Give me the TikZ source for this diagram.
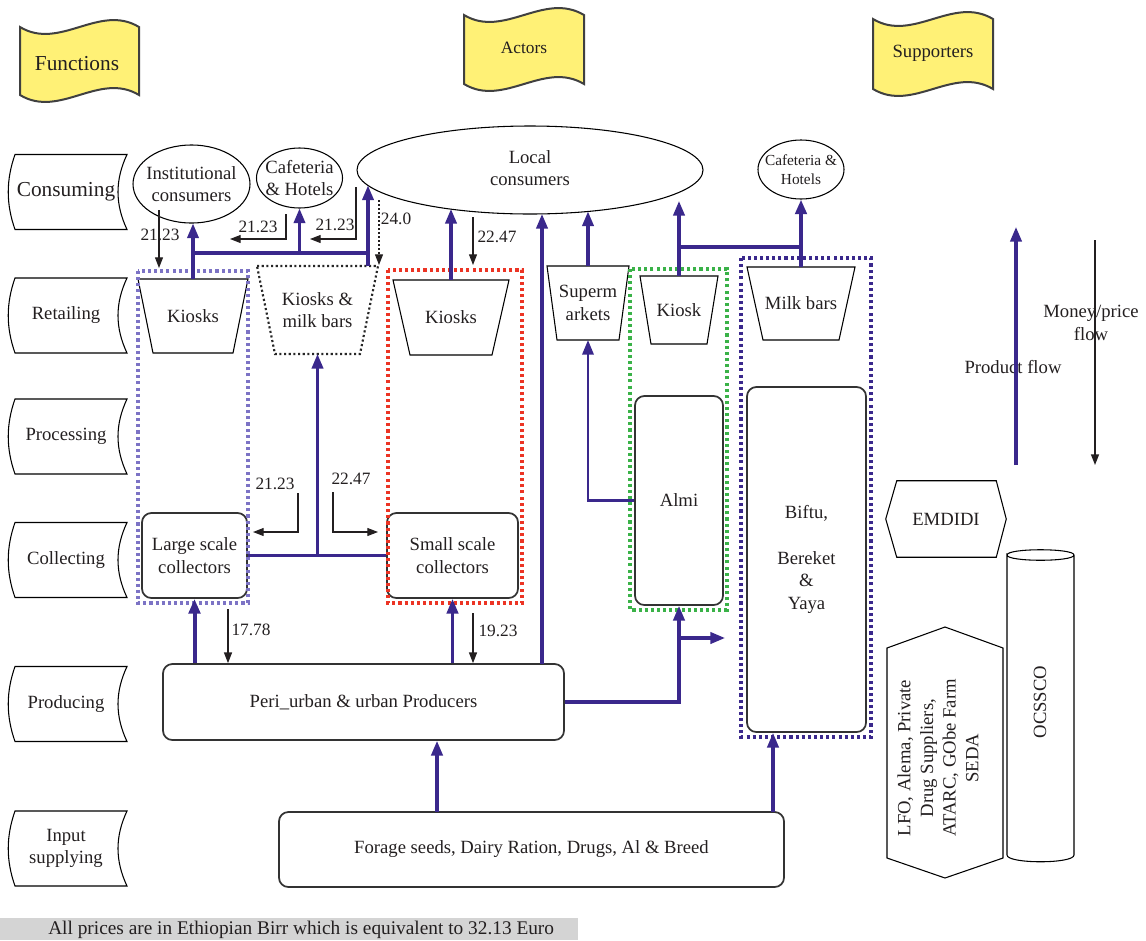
\documentclass[tikz,border=0pt]{standalone}
\usepackage{fontspec}
\setmainfont{Liberation Serif}
\usetikzlibrary{arrows.meta,calc,shapes.geometric}
\definecolor{ind}{RGB}{58,40,140}
\definecolor{lav}{RGB}{124,115,197}
\definecolor{dred}{RGB}{236,52,36}
\definecolor{dgreen}{RGB}{58,178,72}
\definecolor{tapey}{RGB}{255,241,118}
\definecolor{notegray}{RGB}{212,212,212}
\definecolor{ink}{RGB}{35,31,32}
\pgfdeclarelayer{bg}
\pgfsetlayers{bg,main}
\newcommand\fnshape[1]{\draw[fnst] ($(#1.center)+(-51,-37.5)$) .. controls ($(#1.center)+(-60,-12)$) and ($(#1.center)+(-60,12)$) .. ($(#1.center)+(-51,37.5)$) -- ($(#1.center)+(61,37.5)$) .. controls ($(#1.center)+(49,12)$) and ($(#1.center)+(49,-12)$) .. ($(#1.center)+(61,-37.5)$) -- cycle;}
\newcommand\trapdraw[3][trapst]{\draw[#1] (#2.north west) -- (#2.north east) -- ($(#2.south east)+(-#3,0)$) -- ($(#2.south west)+(#3,0)$) -- cycle;}
\newcommand\tapedraw[4]{\filldraw[tapest] (#1,#3) .. controls ({#1+(#2-#1)/3},{#3+24}) and ({#1+2*(#2-#1)/3},{#3-24}) .. (#2,#3) -- (#2,#4) .. controls ({#1+2*(#2-#1)/3},{#4-24}) and ({#1+(#2-#1)/3},{#4+24}) .. (#1,#4) -- cycle;}
\begin{document}
\begin{tikzpicture}[x=0.75pt,y=-0.75pt,
 every node/.style={text=ink},
 txt/.style={font=\fontsize{14}{17}\selectfont, inner sep=0pt, align=center},
 num/.style={font=\fontsize{13}{16}\selectfont, inner sep=0pt},
 rbox/.style={txt, draw=black!80, line width=1.3pt, rounded corners=7pt},
 ellst/.style={ellipse, draw=black, line width=0.8pt, inner sep=0pt},
 trapn/.style={txt, outer sep=0pt},
 trapst/.style={draw=black, line width=0.8pt},
 trapdot/.style={draw=black!85, line width=1.6pt, dash pattern=on 1.6pt off 1.9pt},
 fnst/.style={draw=black, line width=0.8pt},
 tapest/.style={fill=tapey, draw=black!75, line width=1.5pt},
 grp/.style={line width=2.3pt, dash pattern=on 2.3pt off 2.3pt},
 pflow/.style={draw=ind, line width=2.3pt},
 parr/.style={pflow, -{Triangle[length=11pt,width=8.5pt]}},
 price/.style={draw=ink, line width=0.8pt, -{Triangle[length=8pt,width=6pt]}},
]
\useasboundingbox (0,0) rectangle (1146,940);

% ---------- banners and footnote (background) ----------
\begin{pgfonlayer}{bg}
\tapedraw{20}{139}{27}{95}
\tapedraw{464}{584}{15}{84}
\tapedraw{873}{993}{19}{89}
\fill[notegray] (0,918) rectangle (578,940);
\end{pgfonlayer}
\node[txt, font=\fontsize{16}{19}\selectfont] (tfun) at (77,64) {Functions};
\node[txt, font=\fontsize{13}{15}\selectfont] (tact) at (524,48) {Actors};
\node[txt, font=\fontsize{14}{16}\selectfont] (tsup) at (933,53) {Supporters};
\node[txt, anchor=west, font=\fontsize{14.5}{17}\selectfont] (note) at (48,929.5) {All prices are in Ethiopian Birr which is equivalent to 32.13 Euro};

% ---------- functions ----------
\node[txt, font=\fontsize{16}{19}\selectfont] (fcon) at (66,192) {Consuming};
\node[txt] (fret) at (66,315.5) {Retailing};
\node[txt] (fpro) at (66,436.5) {Processing};
\node[txt] (fcol) at (66,560) {Collecting};
\node[txt] (fprd) at (66,704) {Producing};
\node[txt] (finp) at (66,848.5) {Input\\supplying};
\fnshape{fcon}\fnshape{fret}\fnshape{fpro}\fnshape{fcol}\fnshape{fprd}\fnshape{finp}

% ---------- consumers ----------
\node[ellst, minimum width=87.75pt, minimum height=58.5pt] (inst) at (191.5,184) {};
\node[txt] (instt) at (inst) {Institutional\\consumers};
\node[ellst, minimum width=64.5pt, minimum height=45pt] (cafl) at (299.5,178) {};
\node[txt] (caflt) at (cafl) {Cafeteria\\\& Hotels};
\node[ellst, minimum width=259.5pt, minimum height=66pt] (lc) at (530,170) {};
\node[txt] (lct) at (530,168) {Local\\consumers};
\node[ellst, minimum width=64.5pt, minimum height=44.25pt] (cafr) at (801,169.5) {};
\node[txt, font=\fontsize{11.5}{14}\selectfont] (cafrt) at (cafr) {Cafeteria \&\\Hotels};

% ---------- retailers ----------
\node[trapn, minimum width=82.5pt, minimum height=55.5pt] (k1) at (193,316) {Kiosks};
\trapdraw{k1}{15}
\node[trapn, minimum width=90.75pt, minimum height=66pt] (kmb) at (317.5,310) {Kiosks \&\\milk bars};
\trapdraw[trapdot]{kmb}{18}
\node[trapn, minimum width=87pt, minimum height=56.25pt] (k2) at (451,317.5) {Kiosks};
\trapdraw{k2}{17}
\node[trapn, minimum width=61.5pt, minimum height=55.5pt] (sup) at (588,303) {Superm\\arkets};
\trapdraw{sup}{10}
\node[trapn, minimum width=58.5pt, minimum height=51pt] (k3) at (679,310) {Kiosk};
\trapdraw{k3}{11}
\node[trapn, minimum width=81pt, minimum height=54.75pt] (mb) at (801,303.5) {Milk bars};
\trapdraw{mb}{16}

% ---------- processors, collectors, producers, inputs ----------
\node[rbox, minimum width=78.75pt, minimum height=63.75pt] (lsc) at (194.5,555.5) {Large scale\\collectors};
\node[rbox, minimum width=98.25pt, minimum height=63.75pt] (ssc) at (452.5,555.5) {Small scale\\collectors};
\node[rbox, minimum width=66pt, minimum height=156.75pt] (almi) at (679,500.5) {Almi};
\node[rbox, minimum width=89.25pt, minimum height=258.75pt] (bif) at (806.5,559.5) {Biftu,\\\mbox{}\\Bereket\\\&\\Yaya};
\node[rbox, minimum width=300.75pt, minimum height=57pt] (pp) at (363.5,702) {Peri\_urban \& urban Producers};
\node[rbox, minimum width=378.75pt, minimum height=56.25pt] (inp) at (531.5,849.5) {Forage seeds, Dairy Ration, Drugs, Al \& Breed};

% ---------- supporters ----------
\node[txt, minimum width=90pt, minimum height=57pt] (emd) at (946,519) {EMDIDI};
\draw[fnst] (emd.west) -- ($(emd.north west)+(11,0)$) -- ($(emd.north east)+(-10,0)$) -- (emd.east) -- ($(emd.south east)+(-10,0)$) -- ($(emd.south west)+(11,0)$) -- cycle;
\node[txt, rotate=90] (lfo) at (938,758) {LFO, Alema, Private\\Drug Suppliers,\\ATARC, GObe Farm\\SEDA};
\draw[fnst] (887,648) -- (945,627) -- (1003,648) -- (1003,858) -- (945,878) -- (887,858) -- cycle;
\node[txt, rotate=90] (ocs) at (1040,702) {OCSSCO};
\draw[fnst] (1007,555) .. controls (1007,548) and (1074,548) .. (1074,555) .. controls (1074,562) and (1007,562) .. (1007,555) -- (1007,855) .. controls (1007,864) and (1074,864) .. (1074,855) -- (1074,555);

% ---------- group frames ----------
\draw[grp, draw=lav] (138,271) rectangle (248,603);
\draw[grp, draw=dred] (388,270) rectangle (522,603);
\draw[grp, draw=dgreen] (630,269) rectangle (727,610);
\draw[grp, draw=ind] (741,258) rectangle (871,737);

% ---------- product flows ----------
\coordinate (j1) at (193,253);
\coordinate (j2) at (368,253);
\coordinate (j3) at (368,266);
\coordinate (t3) at (368,185.5);
\draw[parr] (k1.north) -- (k1.north |- inst.south);
\draw[pflow] (j1) -- (j2);
\draw[parr] (cafl.south |- j1) -- (cafl.south);
\draw[parr] (j3) -- (t3);
\coordinate (t5) at (451,209);
\draw[parr] (k2.north) -- (t5);
\coordinate (s6) at (542,664);
\coordinate (t6) at (542,214);
\draw[parr] (s6) -- (t6);
\coordinate (t7) at (588,211.5);
\draw[parr] (sup.north) -- (t7);
\draw[parr, line width=1.8pt] (almi.west) -| (sup.south);
\coordinate (t9) at (679,201);
\draw[parr] (k3.north) -- (t9);
\coordinate (j10) at (679,247);
\draw[pflow] (j10) -- (j10 -| mb.north);
\draw[parr, line width=3pt] (mb.north) -- (cafr.south);
\draw[pflow] (lsc.east) -- (ssc.west);
\draw[parr] (kmb.south |- lsc.east) -- (kmb.south);
\draw[parr, line width=3pt] (lsc.south |- pp.north) -- (lsc.south);
\draw[parr] (ssc.south |- pp.north) -- (ssc.south);
\draw[parr] (pp.east) -| (almi.south);
\coordinate (j16) at (679,638);
\coordinate (t16) at (725,638);
\draw[parr] (j16) -- (t16);
\coordinate (s17) at (437,812);
\draw[parr] (s17) -- (s17 |- pp.south);
\coordinate (s18) at (773,812);
\draw[parr] (s18) -- (s18 |- bif.south);

% ---------- prices ----------
\draw[price] (159,210) -- (159,268);
\draw[price] (286,214) |- (230,239);
\draw[price] (356,187) |- (310,239);
\draw[price, dash pattern=on 1.5pt off 1.5pt] (379,200) -- (379,265);
\draw[price] (473,217) -- (473,265);
\draw[price] (298,493) |- (253,532);
\draw[price] (333,492) |- (378,532);
\coordinate (q8) at (228,609);
\draw[price] (q8) -- (q8 |- pp.north);
\coordinate (q9) at (473,613);
\draw[price] (q9) -- (q9 |- pp.north);
\node[num] (p1) at (160,235) {21.23};
\node[num] (p2) at (258,227) {21.23};
\node[num] (p3) at (335,225) {21.23};
\node[num] (p4) at (396,219) {24.0};
\node[num] (p5) at (497,237) {22.47};
\node[num] (p6) at (275,484) {21.23};
\node[num] (p7) at (351,479) {22.47};
\node[num] (p8) at (251,630) {17.78};
\node[num] (p9) at (498,631) {19.23};

% ---------- legend ----------
\node[txt] (pft) at (1013,367) {Product flow};
\coordinate (pfa) at (1016,465);
\coordinate (pfb) at (1016,227);
\draw[parr] (pfa) -- (pfb);
\node[txt] (mft) at (1091,323) {Money/price\\flow};
\coordinate (mfa) at (1095,240);
\coordinate (mfb) at (1095,465);
\draw[price, line width=1pt] (mfa) -- (mfb);
\end{tikzpicture}
\end{document}
